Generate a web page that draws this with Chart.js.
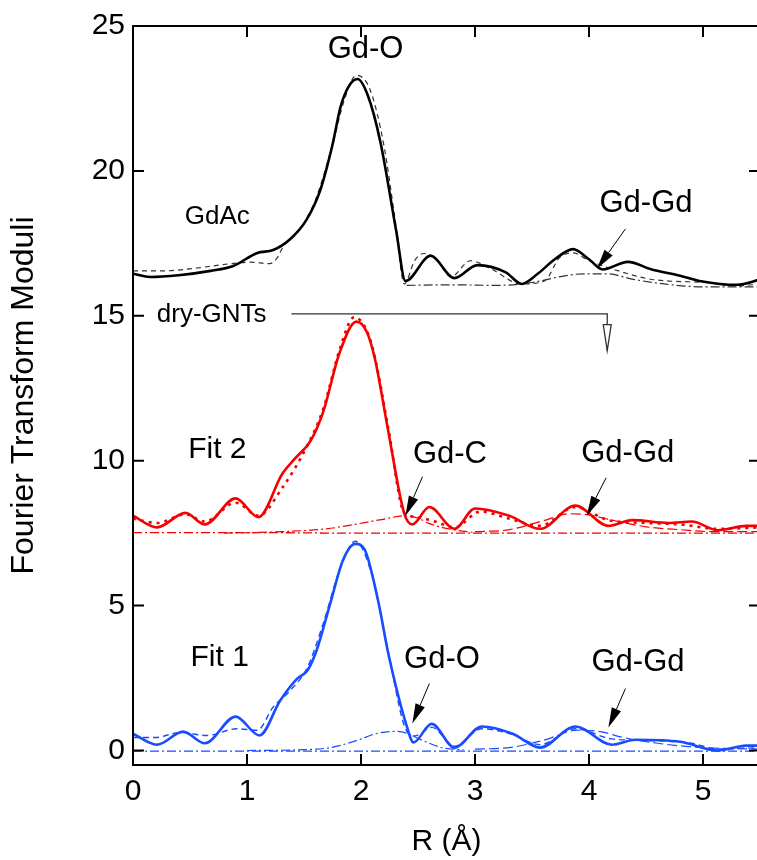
<!DOCTYPE html>
<html>
<head>
<meta charset="utf-8">
<script src="https://cdn.jsdelivr.net/npm/chart.js@4"></script>
<style>
html, body { margin: 0; padding: 0; background: #fff; overflow: hidden; }
#wrap { width: 762px; height: 860px; }
</style>
</head>
<body>
<div id="wrap"><canvas id="chart" width="762" height="860"></canvas></div>
<script>
// ── Tick labels ───────────────────────────────────────────────────────────────
const xTicks = [0, 1, 2, 3, 4, 5];
const yTicks = [0, 5, 10, 15, 20, 25];

// ── GdAc (black, offset ~16) ──────────────────────────────────────────────────
const gdacR   = [0, 0.15, 0.4, 0.68, 0.88, 1.09, 1.23, 1.38, 1.52, 1.64, 1.75, 1.82, 1.89, 1.97, 2.06, 2.17, 2.31, 2.39, 2.61, 2.82, 3.02, 3.27, 3.41, 3.55, 3.7, 3.86, 4.0, 4.12, 4.34, 4.55, 4.8, 4.97, 5.15, 5.3, 5.5];
const gdacExp = [16.45, 16.34, 16.4, 16.55, 16.72, 17.17, 17.27, 17.65, 18.3, 19.3, 20.9, 22.2, 22.9, 23.17, 22.6, 21.0, 17.9, 16.2, 17.07, 16.3, 16.75, 16.5, 16.1, 16.45, 16.95, 17.3, 16.95, 16.6, 16.86, 16.6, 16.38, 16.2, 16.1, 16.07, 16.25];
const gdacFitR = [0, 0.27, 0.56, 0.86, 1.03, 1.2, 1.26, 1.32, 1.45, 1.6, 1.75, 1.85, 1.96, 2.08, 2.2, 2.3, 2.38, 2.47, 2.55, 2.65, 2.79, 2.96, 3.15, 3.4, 3.61, 3.74, 3.86, 4.0, 4.3, 4.53, 4.7, 5.03, 5.3, 5.5];
const gdacFit  = [16.55, 16.55, 16.65, 16.8, 16.85, 16.8, 16.97, 17.4, 17.9, 19.0, 20.9, 22.4, 23.3, 22.8, 20.9, 18.3, 16.1, 16.9, 17.15, 17.0, 16.35, 16.9, 16.6, 16.1, 16.2, 17.0, 17.17, 16.9, 16.5, 16.27, 16.2, 16.15, 16.03, 16.1];
const gdacShellR = [2.4, 2.8, 3.2, 3.5, 3.75, 3.95, 4.15, 4.4, 4.7, 5.0, 5.5];
const gdacShell  = [16.05, 16.07, 16.05, 16.15, 16.35, 16.45, 16.45, 16.25, 16.08, 16.0, 16.0];

// ── dry-GNTs Fit 2 (red, offset ~7.5) ─────────────────────────────────────────
const fit2R   = [0, 0.21, 0.46, 0.63, 0.9, 1.1, 1.31, 1.42, 1.56, 1.67, 1.81, 1.96, 2.05, 2.12, 2.24, 2.38, 2.45, 2.6, 2.82, 3.0, 3.3, 3.57, 3.88, 4.17, 4.38, 4.7, 4.9, 5.13, 5.38, 5.5];
const fit2Exp = [8.1, 7.7, 8.2, 7.8, 8.7, 8.05, 9.55, 10.07, 10.7, 11.7, 13.7, 14.8, 14.45, 13.55, 11.0, 8.17, 7.8, 8.4, 7.65, 8.35, 8.1, 7.65, 8.45, 7.75, 7.95, 7.85, 7.9, 7.6, 7.75, 7.75];
const fit2FitR = [0, 0.21, 0.46, 0.63, 0.9, 1.1, 1.31, 1.52, 1.67, 1.81, 1.94, 2.05, 2.12, 2.24, 2.38, 2.5, 2.65, 2.82, 3.05, 3.3, 3.57, 3.88, 4.17, 4.5, 4.8, 5.13, 5.5];
const fit2Fit  = [8.0, 7.85, 8.15, 7.9, 8.55, 8.1, 9.07, 10.45, 11.8, 13.8, 14.95, 14.5, 13.6, 11.1, 8.2, 8.05, 7.9, 7.7, 8.25, 8.0, 7.75, 8.4, 7.95, 7.85, 7.8, 7.65, 7.7];
const fit2BaseR = [0, 1, 2, 3, 4, 5, 5.5];
const fit2Base  = [7.52, 7.52, 7.5, 7.5, 7.5, 7.5, 7.5];
const fit2GdCR = [0.8, 1.3, 1.7, 1.87, 2.18, 2.39, 2.5, 2.6, 2.81, 3.0];
const fit2GdC  = [7.5, 7.55, 7.65, 7.75, 7.97, 8.1, 8.02, 7.83, 7.62, 7.52];
const fit2GdGdR = [3.0, 3.3, 3.6, 3.83, 4.0, 4.2, 4.5, 4.8, 5.1, 5.5];
const fit2GdGd  = [7.55, 7.62, 7.93, 8.17, 8.13, 7.95, 7.72, 7.62, 7.55, 7.55];

// ── Fit 1 (blue, offset 0) ────────────────────────────────────────────────────
const fit1R   = [0, 0.21, 0.44, 0.63, 0.9, 1.11, 1.29, 1.44, 1.53, 1.61, 1.73, 1.84, 1.95, 2.03, 2.15, 2.24, 2.4, 2.46, 2.62, 2.82, 3.06, 3.33, 3.57, 3.88, 4.2, 4.41, 4.8, 5.13, 5.38, 5.5];
const fit1Exp = [0.58, 0.2, 0.65, 0.25, 1.17, 0.52, 1.72, 2.48, 2.76, 3.45, 5.07, 6.55, 7.13, 6.95, 5.17, 3.34, 0.86, 0.28, 0.92, 0.1, 0.83, 0.58, 0.1, 0.83, 0.2, 0.37, 0.3, 0.0, 0.17, 0.17];
const fit1FitR = [0, 0.2, 0.41, 0.65, 0.91, 1.09, 1.23, 1.38, 1.53, 1.67, 1.81, 1.95, 2.1, 2.24, 2.38, 2.47, 2.62, 2.82, 3.06, 3.33, 3.57, 3.88, 4.2, 4.5, 4.9, 5.13, 5.5];
const fit1Fit  = [0.45, 0.45, 0.62, 0.52, 0.75, 0.7, 1.5, 2.07, 2.87, 4.4, 6.2, 7.22, 6.0, 3.4, 0.85, 0.5, 0.8, 0.15, 0.75, 0.55, 0.2, 0.75, 0.4, 0.35, 0.25, 0.05, 0.1];
const fit1BaseR = [0, 1, 2, 3, 4, 5, 5.5];
const fit1Base  = [-0.02, -0.02, -0.02, -0.02, -0.02, -0.02, -0.02];
const fit1GdOR = [1.0, 1.5, 1.73, 1.96, 2.13, 2.31, 2.4, 2.51, 2.71, 2.9];
const fit1GdO  = [0.0, 0.03, 0.1, 0.34, 0.58, 0.66, 0.6, 0.4, 0.1, 0.02];
const fit1GdGdR = [3.0, 3.3, 3.6, 3.9, 4.1, 4.3, 4.6, 5.0, 5.5];
const fit1GdGd  = [0.05, 0.1, 0.35, 0.7, 0.65, 0.45, 0.25, 0.1, 0.05];

// ── Annotations (data coordinates) ────────────────────────────────────────────
const labels = [
    { text: "Gd-O",     x: 2.04, y: 24.2,  size: 31 },
    { text: "GdAc",     x: 0.74, y: 18.4,  size: 26 },
    { text: "Gd-Gd",    x: 4.5,  y: 18.86, size: 31 },
    { text: "dry-GNTs", x: 0.69, y: 15.05, size: 26 },
    { text: "Fit 2",    x: 0.74, y: 10.38, size: 30 },
    { text: "Gd-C",     x: 2.78, y: 10.2,  size: 31 },
    { text: "Gd-Gd",    x: 4.34, y: 10.24, size: 31 },
    { text: "Fit 1",    x: 0.76, y: 3.2,   size: 30 },
    { text: "Gd-O",     x: 2.71, y: 3.14,  size: 31 },
    { text: "Gd-Gd",    x: 4.43, y: 3.03,  size: 31 },
];
const arrows = [
    { x0: 4.32, y0: 18.0, x1: 4.07, y1: 16.62 },
    { x0: 2.54, y0: 9.45, x1: 2.39, y1: 8.1 },
    { x0: 4.15, y0: 9.41, x1: 3.98, y1: 8.1 },
    { x0: 2.6,  y0: 2.31, x1: 2.45, y1: 0.93 },
    { x0: 4.32, y0: 2.14, x1: 4.17, y1: 0.79 },
];
const bracket = { x0: 1.39, x1: 4.16, y: 15.07, yEnd: 13.8 };

// ── Helpers ───────────────────────────────────────────────────────────────────
const pts = (xs, ys) => xs.map((x, i) => ({ x, y: ys[i] }));

function line(data, color, width, dash, order) {
    return {
        data,
        borderColor: color,
        borderWidth: width,
        borderDash: dash,
        pointRadius: 0,
        showLine: true,
        fill: false,
        cubicInterpolationMode: "monotone",
        order,
    };
}

const BLACK = "#000000";
const RED = "#f50000";
const BLUE = "#1a4cff";
const DASHDOT = [9, 3, 2, 3];

const datasets = [
    line(pts(gdacR, gdacExp), BLACK, 2.6, [], 0),
    line(pts(gdacFitR, gdacFit), "#333", 1.2, [5, 4], 1),
    line(pts(gdacShellR, gdacShell), "#333", 1.2, DASHDOT, 2),

    line(pts(fit2R, fit2Exp), RED, 2.6, [], 0),
    line(pts(fit2FitR, fit2Fit), RED, 2.6, [3, 5], 1),
    line(pts(fit2BaseR, fit2Base), RED, 1.3, DASHDOT, 2),
    line(pts(fit2GdCR, fit2GdC), RED, 1.2, DASHDOT, 2),
    line(pts(fit2GdGdR, fit2GdGd), RED, 1.2, [10, 4], 2),

    line(pts(fit1R, fit1Exp), BLUE, 2.6, [], 0),
    line(pts(fit1FitR, fit1Fit), BLUE, 1.4, [6, 4], 1),
    line(pts(fit1BaseR, fit1Base), BLUE, 1.3, DASHDOT, 2),
    line(pts(fit1GdOR, fit1GdO), BLUE, 1.2, DASHDOT, 2),
    line(pts(fit1GdGdR, fit1GdGd), BLUE, 1.2, [10, 4], 2),
];

// ── Frame with inward ticks ───────────────────────────────────────────────────
const framePlugin = {
    id: "frame",
    afterDraw(chart) {
        const { ctx, chartArea: a, scales: { x, y } } = chart;
        const len = 11;
        ctx.save();
        ctx.strokeStyle = "#000";
        ctx.lineWidth = 2;
        ctx.strokeRect(a.left, a.top, a.right - a.left, a.bottom - a.top);
        ctx.beginPath();
        for (const v of xTicks) {
            const px = x.getPixelForValue(v);
            ctx.moveTo(px, a.bottom); ctx.lineTo(px, a.bottom - len);
            ctx.moveTo(px, a.top); ctx.lineTo(px, a.top + len);
        }
        for (const v of yTicks) {
            const py = y.getPixelForValue(v);
            ctx.moveTo(a.left, py); ctx.lineTo(a.left + len, py);
            ctx.moveTo(a.right, py); ctx.lineTo(a.right - len, py);
        }
        ctx.stroke();
        ctx.restore();
    }
};

// ── Labels and arrows ─────────────────────────────────────────────────────────
function drawArrow(ctx, x0, y0, x1, y1, hl, hw) {
    const ang = Math.atan2(y1 - y0, x1 - x0);
    const c = Math.cos(ang), s = Math.sin(ang);
    const bx = x1 - hl * c, by = y1 - hl * s;
    ctx.beginPath();
    ctx.moveTo(x0, y0);
    ctx.lineTo(bx, by);
    ctx.stroke();
    ctx.beginPath();
    ctx.moveTo(x1, y1);
    ctx.lineTo(bx + hw * s, by - hw * c);
    ctx.lineTo(bx - hw * s, by + hw * c);
    ctx.closePath();
    ctx.fill();
}

const annotationPlugin = {
    id: "annotations",
    afterDatasetsDraw(chart) {
        const { ctx, scales: { x, y } } = chart;
        ctx.save();
        ctx.fillStyle = "#000";
        ctx.textAlign = "center";
        ctx.textBaseline = "middle";
        for (const l of labels) {
            ctx.font = `${l.size}px 'Liberation Sans', Arial, sans-serif`;
            ctx.fillText(l.text, x.getPixelForValue(l.x), y.getPixelForValue(l.y));
        }

        ctx.strokeStyle = "#000";
        ctx.lineWidth = 1;
        for (const a of arrows) {
            drawArrow(ctx,
                x.getPixelForValue(a.x0), y.getPixelForValue(a.y0),
                x.getPixelForValue(a.x1), y.getPixelForValue(a.y1), 20, 5);
        }

        // dry-GNTs bracket pointing down onto the red group
        const bx0 = x.getPixelForValue(bracket.x0);
        const bx1 = x.getPixelForValue(bracket.x1);
        const by = y.getPixelForValue(bracket.y);
        const byEnd = y.getPixelForValue(bracket.yEnd);
        ctx.strokeStyle = "#333";
        ctx.lineWidth = 1.3;
        ctx.beginPath();
        ctx.moveTo(bx0, by);
        ctx.lineTo(bx1, by);
        ctx.lineTo(bx1, byEnd);
        ctx.stroke();
        ctx.beginPath();
        ctx.moveTo(bx1, byEnd);
        ctx.lineTo(bx1 - 4, byEnd - 26);
        ctx.lineTo(bx1 + 4, byEnd - 26);
        ctx.closePath();
        ctx.fillStyle = "#fff";
        ctx.fill();
        ctx.stroke();
        ctx.restore();
    }
};

// ── Chart ─────────────────────────────────────────────────────────────────────
Chart.defaults.font.family = "'Liberation Sans', Arial, sans-serif";
Chart.defaults.color = "#000";

new Chart(document.getElementById("chart"), {
    type: "scatter",
    data: { datasets },
    options: {
        responsive: false,
        animation: false,
        layout: { padding: { top: 25, right: 2, left: 0, bottom: 0 } },
        plugins: {
            legend: { display: false },
            tooltip: { enabled: false },
        },
        scales: {
            x: {
                type: "linear",
                min: 0,
                max: 5.5,
                afterBuildTicks: (scale) => { scale.ticks = xTicks.map(v => ({ value: v })); },
                afterFit: (scale) => { scale.height = 95; },
                ticks: { font: { size: 30 }, color: "#000", padding: 9, maxRotation: 0 },
                grid: { display: false, drawTicks: false },
                border: { display: false },
                title: {
                    display: true,
                    text: "R (Å)",
                    font: { size: 30 },
                    color: "#000",
                    padding: { top: 0, bottom: 0 },
                },
            },
            y: {
                type: "linear",
                min: -0.5,
                max: 25,
                afterBuildTicks: (scale) => { scale.ticks = yTicks.map(v => ({ value: v })); },
                afterFit: (scale) => { scale.width = 133; },
                ticks: { font: { size: 30 }, color: "#000", padding: 8 },
                grid: { display: false, drawTicks: false },
                border: { display: false },
                title: {
                    display: true,
                    text: "Fourier Transform Moduli",
                    font: { size: 32 },
                    color: "#000",
                    padding: { top: 5, bottom: 0 },
                },
            },
        },
    },
    plugins: [framePlugin, annotationPlugin],
});
</script>
</body>
</html>
